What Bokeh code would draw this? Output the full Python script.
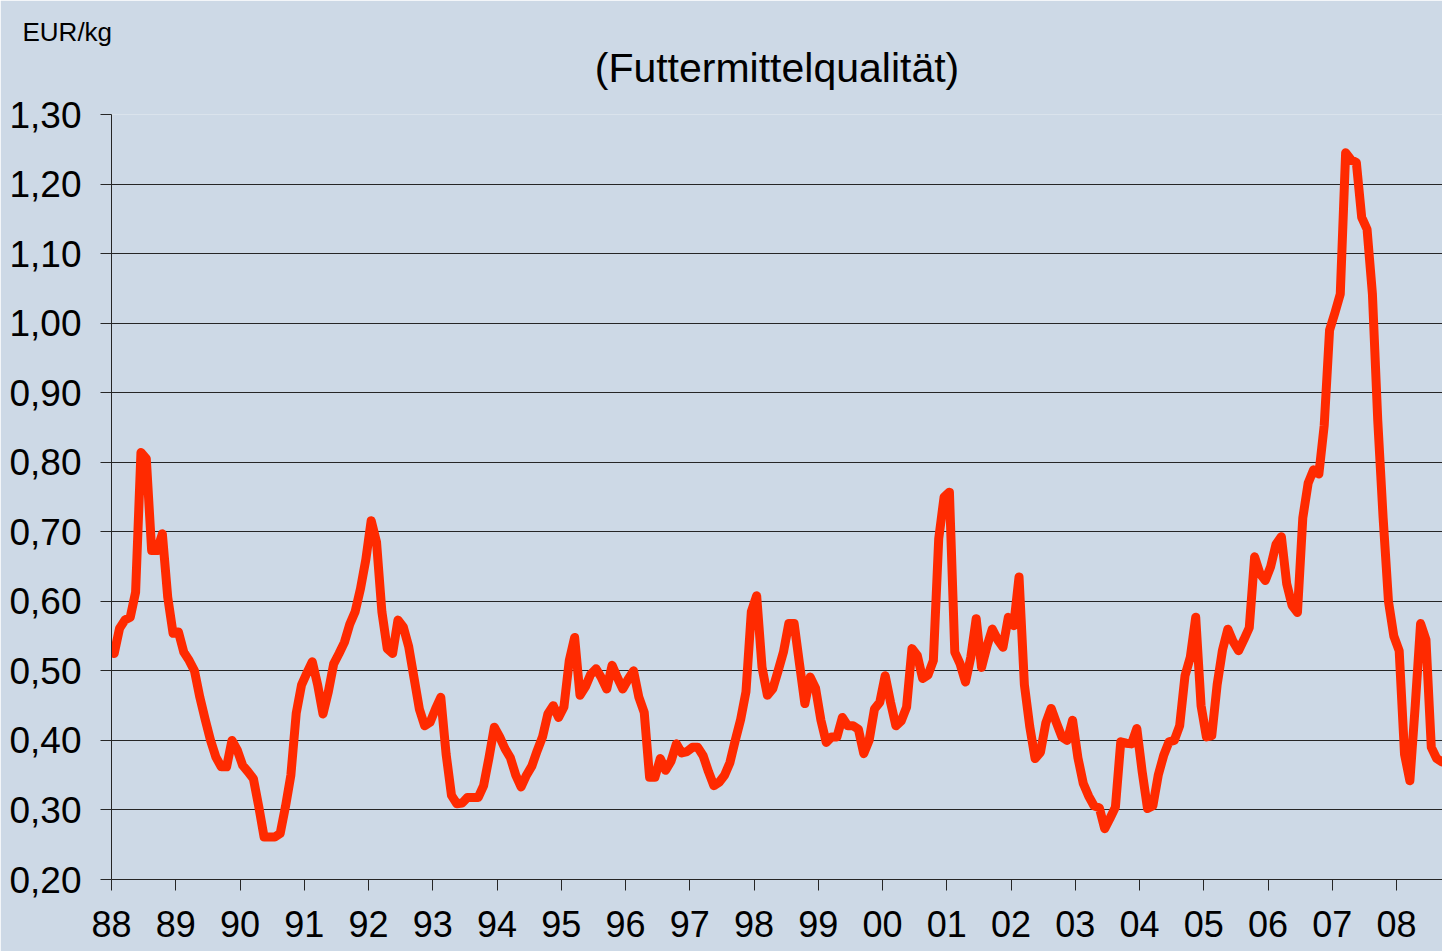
import numpy as np
from bokeh.plotting import figure
from bokeh.models import Range1d, FixedTicker, CustomJSTickFormatter, Title
from bokeh.embed import file_html
from bokeh.resources import INLINE

# ---- data (monthly, Jan 1988 onwards), EUR/kg ----
start_year = 1988
price = [
    # 1988
    0.525, 0.561, 0.573, 0.577, 0.613, 0.814, 0.805, 0.673, 0.673, 0.697, 0.606, 0.554,
    # 1989
    0.556, 0.527, 0.515, 0.500, 0.462, 0.430, 0.400, 0.376, 0.362, 0.362, 0.400, 0.386,
    # 1990
    0.364, 0.355, 0.345, 0.305, 0.261, 0.261, 0.261, 0.266, 0.305, 0.350, 0.439, 0.480,
    # 1991
    0.497, 0.513, 0.480, 0.438, 0.470, 0.510, 0.525, 0.541, 0.567, 0.585, 0.618, 0.660,
    # 1992
    0.716, 0.685, 0.585, 0.532, 0.525, 0.573, 0.563, 0.535, 0.490, 0.445, 0.421, 0.426,
    # 1993
    0.445, 0.462, 0.380, 0.321, 0.309, 0.310, 0.318, 0.318, 0.318, 0.335, 0.375, 0.419,
    # 1994
    0.405, 0.388, 0.375, 0.350, 0.333, 0.350, 0.363, 0.385, 0.405, 0.438, 0.450, 0.433,
    # 1995
    0.448, 0.515, 0.548, 0.465, 0.477, 0.495, 0.503, 0.490, 0.474, 0.508, 0.490, 0.474,
    # 1996
    0.488, 0.500, 0.462, 0.440, 0.347, 0.347, 0.374, 0.357, 0.370, 0.395, 0.382, 0.384,
    # 1997
    0.390, 0.390, 0.378, 0.355, 0.335, 0.340, 0.350, 0.368, 0.400, 0.430, 0.470, 0.585,
    # 1998
    0.608, 0.505, 0.465, 0.474, 0.500, 0.527, 0.568, 0.568, 0.510, 0.453, 0.491, 0.475,
    # 1999
    0.429, 0.397, 0.405, 0.405, 0.433, 0.421, 0.421, 0.416, 0.381, 0.400, 0.445, 0.455,
    # 2000
    0.493, 0.455, 0.421, 0.428, 0.448, 0.532, 0.522, 0.489, 0.494, 0.515, 0.690, 0.750,
    # 2001
    0.757, 0.527, 0.510, 0.484, 0.520, 0.575, 0.505, 0.535, 0.560, 0.545, 0.534, 0.577,
    # 2002
    0.565, 0.635, 0.480, 0.420, 0.374, 0.383, 0.425, 0.446, 0.425, 0.405, 0.400, 0.429,
    # 2003
    0.375, 0.338, 0.320, 0.306, 0.303, 0.273, 0.288, 0.304, 0.398, 0.396, 0.395, 0.417,
    # 2004
    0.355, 0.302, 0.306, 0.350, 0.378, 0.398, 0.400, 0.421, 0.493, 0.520, 0.577, 0.450,
    # 2005
    0.405, 0.407, 0.480, 0.530, 0.560, 0.542, 0.529, 0.545, 0.562, 0.664, 0.640, 0.630,
    # 2006
    0.650, 0.682, 0.693, 0.625, 0.594, 0.584, 0.720, 0.770, 0.789, 0.783, 0.853, 0.990,
    # 2007
    1.015, 1.042, 1.245, 1.235, 1.231, 1.152, 1.135, 1.042, 0.860, 0.720, 0.600, 0.550,
    # 2008
    0.529, 0.380, 0.342, 0.450, 0.568, 0.545, 0.390, 0.374, 0.369,
]
year_ticks = list(range(1988, 2009))
year_labels = ["88", "89", "90", "91", "92", "93", "94", "95", "96", "97", "98",
               "99", "00", "01", "02", "03", "04", "05", "06", "07", "08"]
price_ticks = [0.20, 0.30, 0.40, 0.50, 0.60, 0.70, 0.80, 0.90, 1.00, 1.10, 1.20, 1.30]
price_labels = ["0,20", "0,30", "0,40", "0,50", "0,60", "0,70", "0,80", "0,90",
                "1,00", "1,10", "1,20", "1,30"]
title_text = "(Futtermittelqualität)"
unit_text = "EUR/kg"

# ---- styling ----
BG = "#cdd9e6"
LINE = "#ff2a00"
DARK = "#262626"
FONT = "Liberation Sans"

x = start_year + (np.arange(len(price)) + 0.5) / 12.0

p = figure(width=1442, height=951, output_backend="svg", toolbar_location=None,
           x_range=Range1d(1988, 1988 + 1331 / 64.25),
           y_range=Range1d(0.2, 1.3),
           min_border_left=111, min_border_right=0,
           min_border_top=114, min_border_bottom=72)

p.background_fill_color = BG
p.border_fill_color = BG
p.outline_line_color = None

p.line(x, price, line_color=LINE, line_width=9, line_join="round", line_cap="round")

# axes
p.xaxis.ticker = FixedTicker(ticks=year_ticks)
p.xaxis.formatter = CustomJSTickFormatter(args=dict(vals=year_ticks, labs=year_labels), code="""
    let best = 0;
    for (let i = 0; i < vals.length; i++) {
        if (Math.abs(vals[i] - tick) < Math.abs(vals[best] - tick)) best = i;
    }
    return labs[best];
""")
p.yaxis.ticker = FixedTicker(ticks=price_ticks)
p.yaxis.formatter = CustomJSTickFormatter(args=dict(vals=price_ticks, labs=price_labels), code="""
    let best = 0;
    for (let i = 0; i < vals.length; i++) {
        if (Math.abs(vals[i] - tick) < Math.abs(vals[best] - tick)) best = i;
    }
    return labs[best];
""")

for ax in (p.xaxis, p.yaxis):
    ax.axis_line_color = DARK
    ax.axis_line_width = 1
    ax.major_tick_line_color = DARK
    ax.major_tick_in = 0
    ax.major_tick_out = 11
    ax.minor_tick_line_color = None
    ax.major_label_text_font = FONT
    ax.major_label_text_color = "black"

p.yaxis.major_label_text_font_size = "37px"
p.yaxis.major_label_standoff = 19
p.xaxis.major_label_text_font_size = "36px"
p.xaxis.major_label_standoff = 20
p.xaxis.major_label_text_line_height = 0.6

p.xgrid.grid_line_color = None
p.ygrid.grid_line_color = DARK
p.ygrid.grid_line_width = 1

# texts: unit label on top, chart title right above the plot area
p.title.text = unit_text
p.title.align = "left"
p.title.offset = -89
p.title.standoff = -57
p.title.text_font = FONT
p.title.text_font_size = "26px"
p.title.text_font_style = "normal"
p.title.text_color = "black"

p.add_layout(Title(text=title_text, align="center", offset=3, standoff=48,
                   text_font=FONT, text_font_size="41px", text_font_style="normal",
                   text_color="black"), "above")

open("out.html", "w").write(file_html(p, INLINE))
